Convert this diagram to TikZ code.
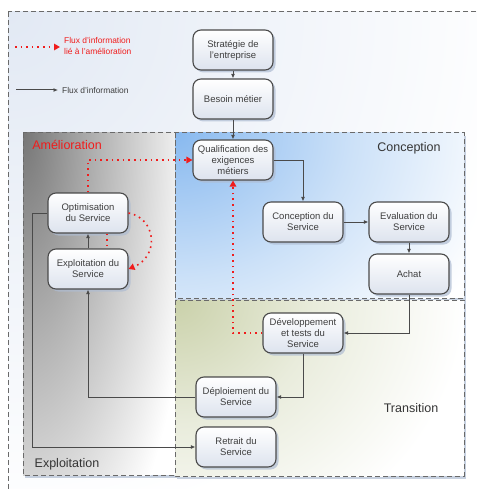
\documentclass[tikz,border=0pt]{standalone}
\usepackage{fontspec}
\setmainfont{Liberation Sans}
\usetikzlibrary{arrows.meta,shadows,calc}

\definecolor{edge}{HTML}{4A4A4A}
\definecolor{txt}{HTML}{3E3E3E}
\definecolor{flowred}{HTML}{F01C1C}
\definecolor{frame}{HTML}{6A6A6A}
\definecolor{nodebot}{HTML}{DDE3EE}
\definecolor{shadowblue}{HTML}{AEBCD2}
\definecolor{outerbg}{HTML}{E2E9F4}
\definecolor{amelA}{HTML}{777777}
\definecolor{amelB}{HTML}{B4B4B4}
\definecolor{concA}{HTML}{88B9EF}
\definecolor{concB}{HTML}{CCE1F8}
\definecolor{tranA}{HTML}{CAD1AA}
\definecolor{tranB}{HTML}{E9ECDC}

% corner fades: 0bp is the corner, 25bp the edge of the fade ellipse
\pgfdeclareradialshading{outerfade}{\pgfpoint{0bp}{0bp}}{color(0bp)=(outerbg); color(25bp)=(white); color(50bp)=(white)}
\pgfdeclareradialshading{amelfade}{\pgfpoint{0bp}{0bp}}{color(0bp)=(amelA); color(11bp)=(amelB); color(25bp)=(white); color(50bp)=(white)}
\pgfdeclareradialshading{concfade}{\pgfpoint{0bp}{0bp}}{color(0bp)=(concA); color(13bp)=(concB); color(25bp)=(white); color(50bp)=(white)}
\pgfdeclareradialshading{tranfade}{\pgfpoint{0bp}{0bp}}{color(0bp)=(tranA); color(12bp)=(tranB); color(25bp)=(white); color(50bp)=(white)}

\pgfdeclarelayer{bg}
\pgfsetlayers{bg,main}

\tikzset{
  proc/.style={draw=edge, line width=1.1pt, rounded corners=8pt,
    minimum width=80pt, minimum height=40pt, inner sep=0pt, align=center,
    top color=white, bottom color=nodebot, text=txt,
    font=\fontsize{9.5}{11}\selectfont,
    drop shadow={shadow xshift=2.5pt, shadow yshift=-2.5pt, fill=shadowblue, opacity=0.7}},
  zone/.style={draw=frame, line width=1pt, dash pattern=on 5pt off 3pt},
  zoneshadow/.style={fill=shadowblue!70},
  flow/.style={draw=edge, line width=1pt, -{Latex[length=4.5pt,width=4pt]}},
  imprline/.style={draw=flowred, line width=1.6pt, dash pattern=on 1.6pt off 4pt},
  impr/.style={imprline, -{Triangle[length=6pt,width=6.5pt]}},
  zonelabel/.style={text=txt!85!black, font=\fontsize{12.5}{14}\selectfont, inner sep=0pt},
  legendtext/.style={anchor=west, align=left, inner sep=0pt, font=\fontsize{8.4}{10}\selectfont}
}

\begin{document}
\begin{tikzpicture}[x=1pt,y=-1pt]
\useasboundingbox (0,0) rectangle (476,489);
\clip (0,0) rectangle (476,489);

\begin{pgfonlayer}{bg}
  \fill[white] (0,0) rectangle (476,489);
  % outer frame
  \begin{scope}
    \clip (8,12) rectangle (492,510);
    \shade[shading=outerfade] (8,12) ellipse [x radius=520, y radius=520];
  \end{scope}
  \draw[zone] (8,12) rectangle (492,510);

  % soft shadows under the three areas
  \fill[zoneshadow] (25,136) rectangle (177,478);
  \fill[zoneshadow] (177,136) rectangle (466,479);

  % Amélioration / Exploitation area
  \begin{scope}
    \clip (23,133) rectangle (175,475);
    \fill[white] (23,133) rectangle (175,475);
    \shade[shading=amelfade] (23,133) ellipse [x radius=175, y radius=500];
  \end{scope}
  % Conception area
  \begin{scope}
    \clip (175,133) rectangle (464,298);
    \fill[white] (175,133) rectangle (464,298);
    \shade[shading=concfade] (175,133) ellipse [x radius=340, y radius=280];
  \end{scope}
  % Transition area
  \begin{scope}
    \clip (175,300) rectangle (464,476);
    \fill[white] (175,300) rectangle (464,476);
    \shade[shading=tranfade] (175,300) ellipse [x radius=290, y radius=260];
  \end{scope}
  \draw[zone] (23,133) rectangle (175,475);
  \draw[zone] (175,133) rectangle (464,298);
  \draw[zone] (175,300) rectangle (464,476);
\end{pgfonlayer}

% zone titles
\node[zonelabel, text=flowred] (tAmel) at (67,145) {Amélioration};
\node[zonelabel] (tConc) at (409,148) {Conception};
\node[zonelabel] (tTrans) at (411,408) {Transition};
\node[zonelabel] (tExpl) at (67,464) {Exploitation};

% legend
\coordinate (lr1) at (15,47);
\coordinate (lr2) at (60,47);
\draw[impr] (lr1) -- (lr2);
\node[legendtext, text=flowred] (lrtxt) at (64,46) {Flux d'information\\lié à l'amélioration};
\coordinate (lb1) at (16,90);
\coordinate (lb2) at (58,90);
\draw[flow] (lb1) -- (lb2);
\node[legendtext, text=txt] (lbtxt) at (62,90) {Flux d'information};

% process steps
\node[proc] (strat) at (233,50) {Stratégie de\\l'entreprise};
\node[proc] (besoin) at (233,99) {Besoin métier};
\node[proc] (qual) at (233,160) {Qualification des\\exigences\\métiers};
\node[proc] (concS) at (303,222) {Conception du\\Service};
\node[proc] (eval) at (409,222) {Evaluation du\\Service};
\node[proc] (achat) at (409,274) {Achat};
\node[proc] (dev) at (303,333) {Développement\\et tests du\\Service};
\node[proc] (depl) at (236,397) {Déploiement du\\Service};
\node[proc] (retr) at (236,447) {Retrait du\\Service};
\node[proc] (optim) at (88,213) {Optimisation\\du Service};
\node[proc] (expl) at (88,269) {Exploitation du\\Service};

% information flow
\draw[flow] (strat) -- (besoin);
\draw[flow] (besoin) -- (qual);
\draw[flow] (qual.east) -| (concS.north);
\draw[flow] (concS) -- (eval);
\draw[flow] (eval) -- (achat);
\draw[flow] (achat.south) |- (dev.east);
\draw[flow] (dev.south) |- (depl.east);
\draw[flow] (depl.west) -| (expl.south);
\draw[flow] (expl) -- (optim);
\draw[flow] (optim.west) -- ++(-15,0) |- (retr.west);

% improvement flow
\draw[impr] (optim.north) |- (qual.west);
\draw[impr] (dev.west) -| (qual.south);
\draw[impr] (optim.east) .. controls (156,218) and (160,256) .. (expl.east);
\draw[imprline] ([xshift=19pt]optim.south) -- ([xshift=19pt]expl.north);
\end{tikzpicture}
\end{document}
